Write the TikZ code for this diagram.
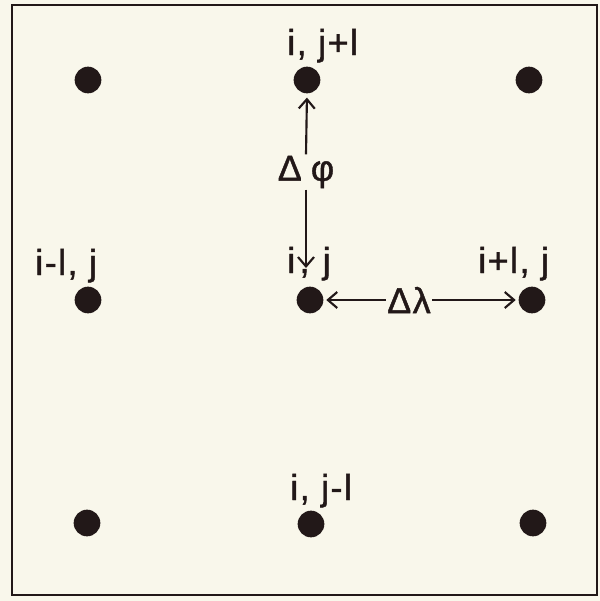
\documentclass[tikz,border=0pt]{standalone}
\usepackage{fontspec}
\setmainfont{Liberation Sans}
\newfontfamily\lblfont[FakeBold=1.2,LetterSpace=4]{Liberation Sans}
\usetikzlibrary{arrows.meta}
\definecolor{paper}{RGB}{249,247,235}
\definecolor{ink}{RGB}{34,24,24}
\tikzset{
	gridpt/.style={circle, fill=ink, draw=none, minimum size=20pt, inner sep=0pt},
	lbl/.style={anchor=base west, inner sep=0.75pt, text=ink, font=\lblfont\fontsize{27}{30}\selectfont},
	gap/.style={draw=ink, line width=1.6pt, -{Straight Barb[length=7pt,width=12pt,line width=1.6pt]}}
}
\begin{document}
\begin{tikzpicture}[x=0.75pt,y=0.75pt,yscale=-1,xscale=1]
			%Shape: Rectangle [background]
			\fill [paper] (0,0) rectangle (600,601);
			\useasboundingbox (0,0) rectangle (600,601);
			%Shape: Rectangle [frame]
			\draw [ink, line width=2.2pt] (12,5) rectangle (597,595);
			
			%Shape: Ellipse [grid points]
			\node [gridpt] (ptNW) at (88,80) {};
			\node [gridpt] (ptN) at (307,80) {};
			\node [gridpt] (ptNE) at (529,80) {};
			\node [gridpt] (ptW) at (88,300) {};
			\node [gridpt] (ptC) at (310,300) {};
			\node [gridpt] (ptE) at (532,300) {};
			\node [gridpt] (ptSW) at (87,523) {};
			\node [gridpt] (ptS) at (311,524) {};
			\node [gridpt] (ptSE) at (533,523) {};
			
			% Text Node
			\node [lbl] (labN) at (286,55) {i, j+l};
			% Text Node
			\node [lbl] (labC) at (286,273) {i\kern0.12em, \kern0.05em j};
			% Text Node
			\node [lbl] (labW) at (34,275) {i-l, j};
			% Text Node
			\node [lbl] (labE) at (477,273) {i+l, j};
			% Text Node
			\node [lbl] (labS) at (289,500) {i, j-l};
			% Text Node
			\node [lbl, anchor=center, inner sep=1pt] (dphi) at (306,172) {Δ\kern0.25em φ};
			% Text Node
			\node [lbl, anchor=center, inner sep=1pt] (dlam) at (409,300) {Δλ};
			
			\coordinate (tipC) at (306,268);
			%Straight Lines [spacing arrows]
			\draw [gap, shorten >=3] (dphi.north) -- (ptN.south);
			\draw [gap] (dphi.south) -- (tipC);
			\draw [gap, shorten >=2] (dlam.west) -- (ptC.east);
			\draw [gap, shorten >=2] (dlam.east) -- (ptE.west);
			
\end{tikzpicture}
\end{document}
